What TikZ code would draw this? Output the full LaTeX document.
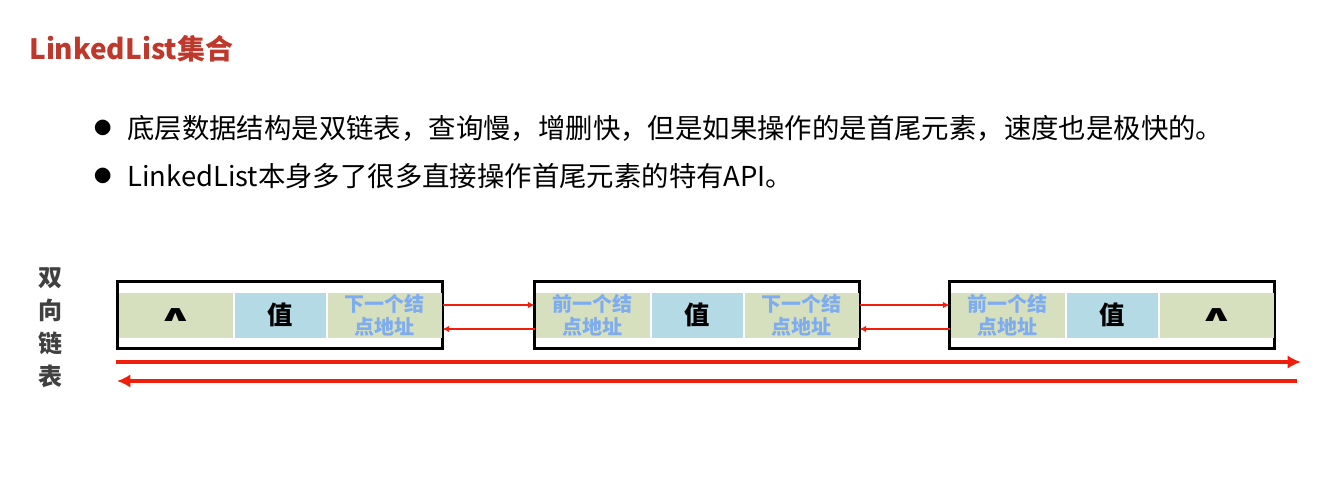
\documentclass[tikz,border=0pt]{standalone}
\usepackage{graphicx}
\usepackage{fontspec}
\setmainfont{Noto Sans CJK SC}
\newfontfamily\symfont{DejaVu Sans}
\usetikzlibrary{positioning,arrows.meta}
\definecolor{titlered}{RGB}{190,56,44}
\definecolor{linkred}{RGB}{242,30,12}
\definecolor{ptrgreen}{RGB}{215,224,190}
\definecolor{valblue}{RGB}{180,218,230}
\definecolor{addrblue}{RGB}{125,172,240}
\definecolor{labelgrey}{RGB}{64,64,64}
\newcommand{\nilmark}{\scalebox{1.2}[0.62]{∧}}

\begin{document}
\begin{tikzpicture}[x=0.75pt, y=-0.75pt,
                    frame/.style={rectangle, draw, line width=2.25pt, minimum width=243.75pt, minimum height=50.25pt, inner sep=0pt, outer sep=0pt},
                    ptrcell/.style={rectangle, fill=ptrgreen, minimum width=85.5pt, minimum height=33.75pt, inner sep=0pt, outer sep=0pt, align=center},
                    valcell/.style={rectangle, fill=valblue, minimum width=68.25pt, minimum height=33.75pt, inner sep=0pt, outer sep=0pt, font=\fontsize{19pt}{19pt}\selectfont\bfseries},
                    addr/.style={text=addrblue, font=\fontsize{15pt}{17.25pt}\selectfont\bfseries},
                    nul/.style={font=\symfont\fontsize{27pt}{27pt}\selectfont\bfseries},
                    bullet/.style={anchor=west, inner sep=0pt, font=\fontsize{20.55pt}{20.55pt}\selectfont},
                    link/.style={draw=linkred, line width=1.5pt, -{Latex[length=5pt,width=5pt]}},
                    chain/.style={draw=linkred, line width=3pt, -{Latex[length=10pt,width=10pt]}}]
  \useasboundingbox (0,0) rectangle (1331,492);
  \node[anchor=west, inner sep=0pt, text=titlered, font=\fontsize{21pt}{21pt}\selectfont\bfseries] (title) at (29,49) {LinkedList集合};
  \node[inner sep=0pt, font=\fontsize{13pt}{13pt}\selectfont] (dot1) at (103,128) {●};
  \node[bullet] (item1) at (127,128) {底层数据结构是双链表，查询慢，增删快，但是如果操作的是首尾元素，速度也是极快的。};
  \node[inner sep=0pt, font=\fontsize{13pt}{13pt}\selectfont] (dot2) at (103,176) {●};
  \node[bullet] (item2) at (127,176) {LinkedList本身多了很多直接操作首尾元素的特有API。};
  \node[align=center, inner sep=0pt, text=labelgrey, font=\fontsize{18pt}{24.75pt}\selectfont\bfseries] (kind) at (50,328) {双\\向\\链\\表};

  \node[frame] (box1) at (280,315) {};
  \node[valcell] (v1) at (box1) {值};
  \node[ptrcell, nul, left=1.5pt of v1] (p1) {\nilmark};
  \node[ptrcell, addr, right=1.5pt of v1] (n1) {下一个结\\点地址};

  \node[frame] (box2) at (697,315) {};
  \node[valcell] (v2) at (box2) {值};
  \node[ptrcell, addr, left=1.5pt of v2] (p2) {前一个结\\点地址};
  \node[ptrcell, addr, right=1.5pt of v2] (n2) {下一个结\\点地址};

  \node[frame] (box3) at (1112,315) {};
  \node[valcell] (v3) at (box3) {值};
  \node[ptrcell, addr, left=1.5pt of v3] (p3) {前一个结\\点地址};
  \node[ptrcell, nul, right=1.5pt of v3] (n3) {\nilmark};

  \draw[link] ([yshift=7.5pt]box1.east) -- ([yshift=7.5pt]box2.west);
  \draw[link] ([yshift=-10.5pt]box2.west) -- ([yshift=-10.5pt]box1.east);
  \draw[link] ([yshift=7.5pt]box2.east) -- ([yshift=7.5pt]box3.west);
  \draw[link] ([yshift=-10.5pt]box3.west) -- ([yshift=-10.5pt]box2.east);

  \coordinate (fwd0) at (116,362);
  \coordinate (fwd1) at (1301,362);
  \coordinate (bwd0) at (1297,381);
  \coordinate (bwd1) at (117,381);
  \draw[chain] (fwd0) -- (fwd1);
  \draw[chain] (bwd0) -- (bwd1);
\end{tikzpicture}
\end{document}
